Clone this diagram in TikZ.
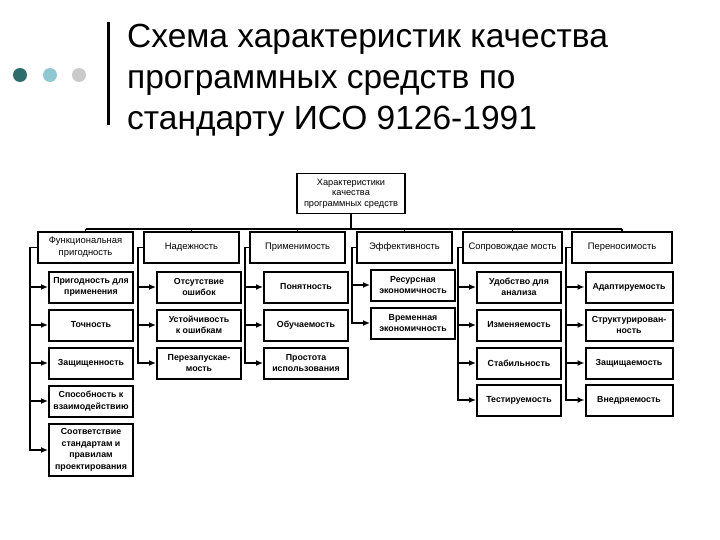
\documentclass[tikz,border=0pt]{standalone}
\usepackage{fontspec}
\setmainfont{Liberation Sans}
\usetikzlibrary{arrows.meta,positioning}
\definecolor{dotdark}{HTML}{2F6C6C}
\definecolor{dotlight}{HTML}{8FC8D0}
\definecolor{dotgrey}{HTML}{CACACA}

\begin{document}
\begin{tikzpicture}[x=1pt, y=-1pt,
  title/.style={anchor=base west, inner sep=0pt, font=\fontsize{33.5}{41}\selectfont},
  head/.style={rectangle, draw, line width=1.6pt, minimum width=108pt, minimum height=40pt, align=center, inner sep=1pt,
    font=\fontsize{9.2}{10.4}\selectfont},
  box/.style={rectangle, draw, line width=1.6pt, minimum width=#1, minimum height=31pt, align=center, inner sep=1pt,
    font=\fontsize{9.4}{12}\selectfont},
  box/.default=95pt,
  sub/.style={rectangle, draw, line width=2pt, minimum width=84pt, minimum height=31pt, align=center, inner sep=1pt,
    font=\bfseries\fontsize{8.8}{11.5}\selectfont},
  link/.style={line width=1.8pt},
  arr/.style={-{Latex[length=7pt,width=6pt]}, line width=1.6pt}
]
  \fill[white] (0,0) rectangle (720,540);
  \useasboundingbox (0,0) rectangle (720,540);

  % heading
  \fill[dotdark] (20,75) circle (7pt);
  \fill[dotlight] (50,75) circle (7pt);
  \fill[dotgrey] (79,75) circle (7pt);
  \draw[line width=3pt] (108,22) -- (108,125);
  \node[title] (t1) at (127,48) {Схема характеристик качества};
  \node[title] (t2) at (127,89) {программных средств по};
  \node[title] (t3) at (127,130) {стандарту ИСО 9126-1991};

  % top and first level
  \node[head] (top) at (351,193.5) {Характеристики\\качества\\программных средств};
  \node[box] (f1) at (85.5,247.5) {Функциональная\\пригодность};
  \node[box] (f2) at (191.5,247.5) {Надежность};
  \node[box] (f3) at (297.5,247.5) {Применимость};
  \node[box] (f4) at (404.5,247.5) {Эффективность};
  \node[box=99pt] (f5) at (512.5,247.5) {Сопровождае мость};
  \node[box=100pt] (f6) at (622,247.5) {Переносимость};

  % second level
  \node[sub] (a1) at (91,287) {Пригодность для\\применения};
  \node[sub] (a2) at (91,325) {Точность};
  \node[sub] (a3) at (91,363) {Защищенность};
  \node[sub] (a4) at (91,401) {Способность к\\взаимодействию};
  \node[sub, minimum height=52pt] (a5) at (91,450) {Соответствие\\стандартам и\\правилам\\проектирования};

  \node[sub] (b1) at (199,287) {Отсутствие\\ошибок};
  \node[sub] (b2) at (199,325) {Устойчивость\\к ошибкам};
  \node[sub] (b3) at (199,363) {Перезапускае-\\мость};

  \node[sub] (c1) at (306,287) {Понятность};
  \node[sub] (c2) at (306,325) {Обучаемость};
  \node[sub] (c3) at (306,363) {Простота\\использования};

  \node[sub] (d1) at (413,285) {Ресурсная\\экономичность};
  \node[sub] (d2) at (413,323) {Временная\\экономичность};

  \node[sub] (e1) at (519,287) {Удобство для\\анализа};
  \node[sub] (e2) at (519,325) {Изменяемость};
  \node[sub] (e3) at (519,363) {Стабильность};
  \node[sub] (e4) at (519,400) {Тестируемость};

  \node[sub, minimum width=87pt] (g1) at (629,287) {Адаптируемость};
  \node[sub, minimum width=87pt] (g2) at (629,325) {Структурирован-\\ность};
  \node[sub, minimum width=87pt] (g3) at (629,363) {Защищаемость};
  \node[sub, minimum width=87pt] (g4) at (629,400) {Внедряемость};

  % bus
  \draw[link] (top.south) -- ++(0,15) coordinate (bus);
  \draw[link] (f1.north |- bus) -- (f6.north |- bus);
  \draw[link] (f1.north) -- (f1.north |- bus);
  \draw[link] (f2.north) -- (f2.north |- bus);
  \draw[link] (f3.north) -- (f3.north |- bus);
  \draw[link] (f4.north) -- (f4.north |- bus);
  \draw[link] (f5.north) -- (f5.north |- bus);
  \draw[link] (f6.north) -- (f6.north |- bus);

  % columns
  \draw[arr] (f1.west) -- ++(-7,0) |- (a1);
  \draw[arr] (f1.west) -- ++(-7,0) |- (a2);
  \draw[arr] (f1.west) -- ++(-7,0) |- (a3);
  \draw[arr] (f1.west) -- ++(-7,0) |- (a4);
  \draw[arr] (f1.west) -- ++(-7,0) |- (a5);

  \draw[arr] (f2.west) -- ++(-5,0) |- (b1);
  \draw[arr] (f2.west) -- ++(-5,0) |- (b2);
  \draw[arr] (f2.west) -- ++(-5,0) |- (b3);

  \draw[arr] (f3.west) -- ++(-4,0) |- (c1);
  \draw[arr] (f3.west) -- ++(-4,0) |- (c2);
  \draw[arr] (f3.west) -- ++(-4,0) |- (c3);

  \draw[arr] (f4.west) -- ++(-4,0) |- (d1);
  \draw[arr] (f4.west) -- ++(-4,0) |- (d2);

  \draw[arr] (f5.west) -- ++(-4,0) |- (e1);
  \draw[arr] (f5.west) -- ++(-4,0) |- (e2);
  \draw[arr] (f5.west) -- ++(-4,0) |- (e3);
  \draw[arr] (f5.west) -- ++(-4,0) |- (e4);

  \draw[arr] (f6.west) -- ++(-5,0) |- (g1);
  \draw[arr] (f6.west) -- ++(-5,0) |- (g2);
  \draw[arr] (f6.west) -- ++(-5,0) |- (g3);
  \draw[arr] (f6.west) -- ++(-5,0) |- (g4);
\end{tikzpicture}
\end{document}
